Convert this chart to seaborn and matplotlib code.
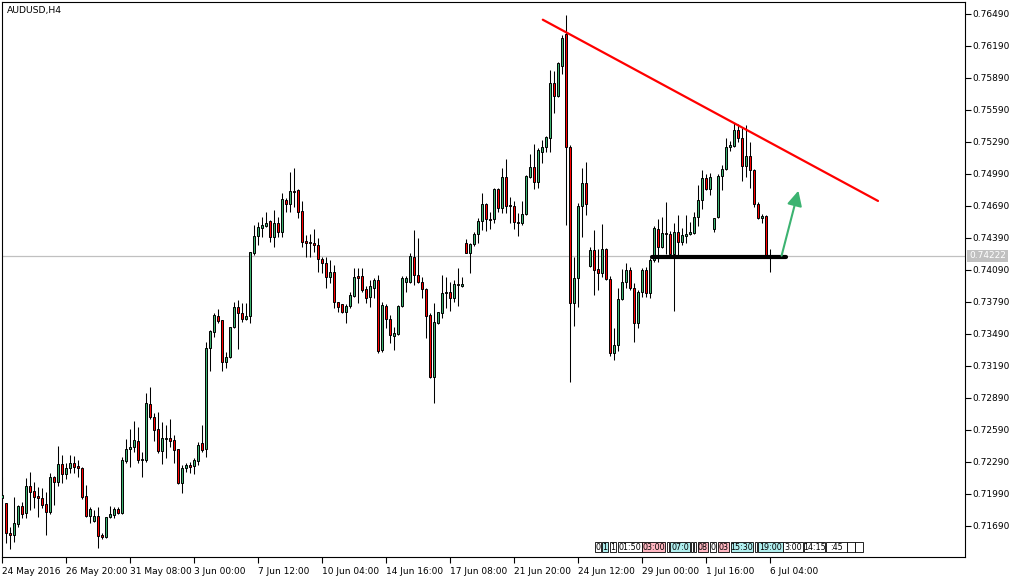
import numpy as np
import pandas as pd
import matplotlib
matplotlib.use("Agg")
import matplotlib.pyplot as plt
import seaborn as sns
from matplotlib.patches import Rectangle

# ---------------- data (AUDUSD H4) ----------------
opens = [
    0.71952, 0.71905, 0.71624, 0.71605, 0.71708, 0.71877, 0.71812, 0.72065, 0.72018, 0.71971,
    0.71952, 0.71896, 0.71821, 0.72149, 0.72102, 0.72271, 0.72177, 0.72233, 0.72280, 0.72252,
    0.72233, 0.71971, 0.71783, 0.71737, 0.71783, 0.71605, 0.71587, 0.71774, 0.71793, 0.71849,
    0.71812, 0.72299, 0.72412, 0.72430, 0.72487, 0.72308, 0.72308, 0.72833, 0.72712, 0.72599,
    0.72393, 0.72505, 0.72515, 0.72496, 0.72412, 0.72093, 0.72233, 0.72262, 0.72252, 0.72299,
    0.72468, 0.72412, 0.73358, 0.73508, 0.73658, 0.73621, 0.73227, 0.73274, 0.73555, 0.73743,
    0.73687, 0.73630, 0.73658, 0.74249, 0.74408, 0.74483, 0.74502, 0.74549, 0.74399, 0.74530,
    0.74446, 0.74746, 0.74708, 0.74830, 0.74840, 0.74643, 0.74362, 0.74352, 0.74343, 0.74324,
    0.74193, 0.74155, 0.74024, 0.74071, 0.73790, 0.73771, 0.73696, 0.73752, 0.73846, 0.74033,
    0.74033, 0.73912, 0.73837, 0.73921, 0.73996, 0.73340, 0.73752, 0.73630, 0.73471, 0.73490,
    0.73752, 0.73977, 0.73977, 0.74212, 0.74043, 0.73977, 0.73912, 0.73668, 0.73087, 0.73593,
    0.73687, 0.73874, 0.73883, 0.73827, 0.73958, 0.73940, 0.74343, 0.74249, 0.74333, 0.74427,
    0.74549, 0.74708, 0.74568, 0.74568, 0.74849, 0.74671, 0.74962, 0.74699, 0.74690, 0.74540,
    0.74530, 0.74615, 0.74962, 0.75055, 0.74915, 0.75196, 0.75243, 0.75327, 0.75843, 0.75721,
    0.76002, 0.76302, 0.75243, 0.73780, 0.74015, 0.74690, 0.74905, 0.74127, 0.74277, 0.74099,
    0.74062, 0.74287, 0.74005, 0.73312, 0.73387, 0.73818, 0.73977, 0.74090, 0.73921, 0.73593,
    0.73883, 0.74090, 0.73874, 0.74183, 0.74474, 0.74305, 0.74437, 0.74427, 0.74240, 0.74446,
    0.74352, 0.74408, 0.74427, 0.74437, 0.74587, 0.74746, 0.74952, 0.74849, 0.74474, 0.74587,
    0.74971, 0.75037, 0.75243, 0.75252, 0.75402, 0.75327, 0.75065, 0.75158, 0.75027, 0.74708,
    0.74577, 0.74596, 0.74215,
]
highs = [
    0.72149, 0.71905, 0.71680, 0.71962, 0.71887, 0.71915, 0.72140, 0.72196, 0.72102, 0.72055,
    0.72046, 0.72008, 0.72187, 0.72158, 0.72440, 0.72355, 0.72280, 0.72355, 0.72346, 0.72308,
    0.72243, 0.72074, 0.71868, 0.71840, 0.71868, 0.71624, 0.71774, 0.71877, 0.71868, 0.71868,
    0.72337, 0.72505, 0.72599, 0.72674, 0.72618, 0.72383, 0.72937, 0.72993, 0.72749, 0.72758,
    0.72665, 0.72637, 0.72693, 0.72543, 0.72412, 0.72262, 0.72280, 0.72290, 0.72327, 0.72477,
    0.72637, 0.73415, 0.73527, 0.73687, 0.73724, 0.73621, 0.73321, 0.73555, 0.73790, 0.73808,
    0.73780, 0.73780, 0.74258, 0.74512, 0.74540, 0.74587, 0.74633, 0.74558, 0.74652, 0.74587,
    0.74812, 0.74765, 0.75008, 0.75046, 0.74849, 0.74737, 0.74418, 0.74427, 0.74474, 0.74390,
    0.74212, 0.74212, 0.74183, 0.74137, 0.73790, 0.73771, 0.73771, 0.73883, 0.74108, 0.74108,
    0.74108, 0.73940, 0.73996, 0.74015, 0.74043, 0.73790, 0.73771, 0.73668, 0.73555, 0.73762,
    0.74033, 0.74033, 0.74249, 0.74465, 0.74390, 0.74024, 0.73921, 0.73687, 0.73780, 0.73696,
    0.74043, 0.74024, 0.73977, 0.73996, 0.74108, 0.74024, 0.74380, 0.74343, 0.74446, 0.74577,
    0.74812, 0.74718, 0.74633, 0.74858, 0.74858, 0.75046, 0.75130, 0.74774, 0.74737, 0.74624,
    0.74737, 0.74980, 0.75177, 0.75271, 0.75233, 0.75308, 0.75346, 0.75965, 0.75955, 0.76040,
    0.76293, 0.76480, 0.75262, 0.74212, 0.74718, 0.75046, 0.75102, 0.74305, 0.74465, 0.74287,
    0.74521, 0.74296, 0.74033, 0.73546, 0.73921, 0.74099, 0.74155, 0.74118, 0.73968, 0.73902,
    0.74108, 0.74118, 0.74202, 0.74502, 0.74568, 0.74587, 0.74727, 0.74455, 0.74530, 0.74605,
    0.74483, 0.74605, 0.74540, 0.74633, 0.74887, 0.75027, 0.74990, 0.74999, 0.74577, 0.74990,
    0.75074, 0.75327, 0.75299, 0.75468, 0.75458, 0.75421, 0.75449, 0.75290, 0.75037, 0.74727,
    0.74615, 0.74605, 0.74287,
]
lows = [
    0.71905, 0.71530, 0.71474, 0.71540, 0.71680, 0.71765, 0.71765, 0.71840, 0.71858, 0.71774,
    0.71858, 0.71605, 0.71802, 0.71887, 0.72065, 0.72093, 0.72130, 0.72187, 0.72187, 0.72149,
    0.71943, 0.71774, 0.71718, 0.71727, 0.71483, 0.71568, 0.71577, 0.71765, 0.71765, 0.71802,
    0.71802, 0.72280, 0.72243, 0.72383, 0.72280, 0.72149, 0.72290, 0.72693, 0.72487, 0.72374,
    0.72271, 0.72327, 0.72430, 0.72280, 0.72083, 0.71999, 0.72196, 0.72187, 0.72177, 0.72262,
    0.72383, 0.72337, 0.73143, 0.73462, 0.73593, 0.73143, 0.73171, 0.73265, 0.73546, 0.73349,
    0.73602, 0.73621, 0.73593, 0.74230, 0.74324, 0.74399, 0.74493, 0.74352, 0.74305, 0.74399,
    0.74399, 0.74633, 0.74633, 0.74680, 0.74577, 0.74305, 0.74212, 0.74212, 0.74258, 0.74071,
    0.74062, 0.73921, 0.73968, 0.73733, 0.73696, 0.73687, 0.73593, 0.73733, 0.73837, 0.73780,
    0.73883, 0.73780, 0.73743, 0.73827, 0.73312, 0.73321, 0.73546, 0.73405, 0.73340, 0.73480,
    0.73743, 0.73883, 0.73968, 0.73949, 0.73968, 0.73827, 0.73452, 0.73077, 0.72843, 0.73583,
    0.73640, 0.73733, 0.73705, 0.73790, 0.73752, 0.73930, 0.74249, 0.74062, 0.74315, 0.74343,
    0.74465, 0.74455, 0.74474, 0.74530, 0.74633, 0.74624, 0.74624, 0.74530, 0.74474, 0.74408,
    0.74512, 0.74605, 0.74952, 0.74849, 0.74858, 0.75093, 0.75196, 0.75196, 0.75562, 0.75712,
    0.75927, 0.74512, 0.73040, 0.73565, 0.73743, 0.74399, 0.74605, 0.74118, 0.73855, 0.73902,
    0.74024, 0.73996, 0.73283, 0.73246, 0.73330, 0.73808, 0.73921, 0.73902, 0.73415, 0.73546,
    0.73837, 0.73837, 0.73827, 0.74165, 0.74165, 0.74296, 0.74240, 0.74230, 0.73705, 0.74230,
    0.74324, 0.74343, 0.74418, 0.74427, 0.74502, 0.74662, 0.74840, 0.74793, 0.74446, 0.74577,
    0.74840, 0.75027, 0.75205, 0.75243, 0.75290, 0.74924, 0.74962, 0.74858, 0.74680, 0.74568,
    0.74530, 0.74212, 0.74071,
]
closes = [
    0.71980, 0.71624, 0.71605, 0.71718, 0.71877, 0.71802, 0.72065, 0.72008, 0.71962, 0.71952,
    0.71887, 0.71821, 0.72149, 0.72102, 0.72271, 0.72177, 0.72233, 0.72280, 0.72243, 0.72233,
    0.71962, 0.71783, 0.71849, 0.71783, 0.71596, 0.71587, 0.71774, 0.71802, 0.71849, 0.71812,
    0.72308, 0.72412, 0.72430, 0.72496, 0.72308, 0.72318, 0.72843, 0.72712, 0.72590, 0.72393,
    0.72515, 0.72515, 0.72487, 0.72402, 0.72093, 0.72233, 0.72262, 0.72243, 0.72308, 0.72449,
    0.72402, 0.73358, 0.73518, 0.73668, 0.73612, 0.73227, 0.73274, 0.73555, 0.73743, 0.73687,
    0.73630, 0.73658, 0.74258, 0.74408, 0.74493, 0.74512, 0.74530, 0.74399, 0.74530, 0.74446,
    0.74755, 0.74708, 0.74830, 0.74821, 0.74633, 0.74352, 0.74343, 0.74343, 0.74324, 0.74193,
    0.74155, 0.74024, 0.74071, 0.73790, 0.73743, 0.73696, 0.73752, 0.73855, 0.74024, 0.74015,
    0.73902, 0.73827, 0.73940, 0.73996, 0.73330, 0.73762, 0.73630, 0.73480, 0.73499, 0.73752,
    0.74015, 0.74015, 0.74221, 0.74043, 0.73977, 0.73912, 0.73658, 0.73087, 0.73602, 0.73696,
    0.73874, 0.73883, 0.73827, 0.73958, 0.73949, 0.73958, 0.74249, 0.74333, 0.74427, 0.74549,
    0.74708, 0.74568, 0.74558, 0.74849, 0.74671, 0.74962, 0.74690, 0.74690, 0.74540, 0.74530,
    0.74615, 0.74971, 0.75055, 0.74915, 0.75215, 0.75243, 0.75337, 0.75843, 0.75721, 0.76030,
    0.76265, 0.75243, 0.73780, 0.74015, 0.74690, 0.74905, 0.74708, 0.74277, 0.74090, 0.74062,
    0.74287, 0.74005, 0.73312, 0.73387, 0.73818, 0.73977, 0.74090, 0.73921, 0.73593, 0.73883,
    0.74090, 0.73874, 0.74183, 0.74483, 0.74305, 0.74437, 0.74427, 0.74240, 0.74446, 0.74352,
    0.74418, 0.74427, 0.74446, 0.74587, 0.74746, 0.74952, 0.74849, 0.74962, 0.74577, 0.74971,
    0.75037, 0.75243, 0.75262, 0.75402, 0.75327, 0.75065, 0.75158, 0.75027, 0.74708, 0.74577,
    0.74596, 0.74221, 0.74222,
]

xtick_labels = ["24 May 2016", "26 May 20:00", "31 May 08:00", "3 Jun 00:00", "7 Jun 12:00",
                "10 Jun 04:00", "14 Jun 16:00", "17 Jun 08:00", "21 Jun 20:00", "24 Jun 12:00",
                "29 Jun 00:00", "1 Jul 16:00", "6 Jul 04:00"]
ytick_values = [0.76490, 0.76190, 0.75890, 0.75590, 0.75290, 0.74990, 0.74690, 0.74390,
                0.74090, 0.73790, 0.73490, 0.73190, 0.72890, 0.72590, 0.72290, 0.71990, 0.71690]
current_price = 0.74222

# drawn objects (bar index, price)
trend_x = [135.2, 219.0]
trend_y = [0.76436, 0.74737]
support_x = [162.5, 196.0]
support_y = [0.74209, 0.74209]
arrow_from = (194.9, 0.74224)
arrow_to = (199.1, 0.74833)

# news-event strip labels
event_labels = ["0", "1", "1", "01:50", "03:00", "", "07:0", "", "", "08", "0", "03",
                "15:30", "", "19:00", "3:00", "14:15", ":45", "", ""]
event_kinds = ["n", "c", "n", "n", "p", "n", "c", "n", "n", "p", "n", "p",
               "c", "n", "c", "n", "n", "n", "n", "n"]

# ---------------- figure ----------------
sns.set_style("white")
plt.rcParams["font.family"] = ["DejaVu Sans"]

W, H = 1019, 578
fig = plt.figure(figsize=(W / 100, H / 100), dpi=100)
fig.patch.set_facecolor("white")
ax = fig.add_axes([2 / W, 21 / H, 963 / W, 555 / H])
ax.set_facecolor("white")

df = pd.DataFrame({"open": opens, "high": highs, "low": lows, "close": closes})
df["idx"] = np.arange(len(df))
df["up"] = df["close"] >= df["open"]

GREEN = "#3CB371"
RED = "#FF0000"

# wicks
ax.vlines(df["idx"], df["low"], df["high"], color="black", linewidth=0.75, zorder=2)
# bodies
bottom = np.minimum(df["open"], df["close"])
height = np.maximum((df["close"] - df["open"]).abs(), 0.00002)
colors = np.where(df["up"], GREEN, RED)
ax.bar(df["idx"], height, bottom=bottom, width=0.55, color=colors,
       edgecolor="black", linewidth=0.7, zorder=3)

# current price line
ax.axhline(current_price, color="#C0C0C0", linewidth=0.9, zorder=1)

# trend line and support line
sns.lineplot(x=trend_x, y=trend_y, ax=ax, color=RED, linewidth=1.6, zorder=4)
sns.lineplot(x=support_x, y=support_y, ax=ax, color="black", linewidth=3.0, zorder=4)
ax.annotate("", xy=arrow_to, xytext=arrow_from,
            arrowprops=dict(arrowstyle="-|>,head_length=0.9,head_width=0.45",
                            color=GREEN, lw=1.5, shrinkA=0, shrinkB=0), zorder=5)

ax.set_xlim(0, 240.75)
ax.set_ylim(0.71399, 0.76602)

# axes styling
for s in ax.spines.values():
    s.set_visible(True)
    s.set_color("black")
    s.set_linewidth(0.8)
ax.grid(False)
ax.yaxis.tick_right()
ax.set_yticks(ytick_values)
ax.set_yticklabels([f"{v:.5f}" for v in ytick_values])
ax.tick_params(axis="y", direction="out", length=4, width=0.8, labelsize=6.5,
               pad=1, colors="black", right=True, left=False)
ax.set_xticks(np.arange(0, 16 * len(xtick_labels), 16))
ax.set_xticklabels(xtick_labels, ha="left")
ax.tick_params(axis="x", direction="out", length=4, width=0.8, labelsize=6.5,
               pad=3, colors="black", bottom=True)
ax.set_xlabel("")
ax.set_ylabel("")
if ax.get_legend():
    ax.get_legend().remove()

# title
fig.text(7 / W, 1 - 10 / H, "AUDUSD,H4", fontsize=6.7, ha="left", va="center", color="black")

# current price label
fig.text(969 / W, 1 - 256 / H, f"{current_price:.5f}", fontsize=6.5, ha="left", va="center",
         color="white", bbox=dict(facecolor="#C0C0C0", edgecolor="none", pad=1.3))

# news-event strip
box_edges = [(595, 601), (602, 608), (610, 616), (618, 642), (642, 665), (667, 669),
             (670, 690), (691, 693), (694, 696), (698, 708), (710, 716), (718, 729),
             (731, 753), (755, 757), (758, 783), (783, 803), (804, 825), (826, 847),
             (847, 855), (855, 863)]
fill = {"n": "white", "c": "#AFEEEE", "p": "#FFB6C1"}
for (x0, x1), lab, kind in zip(box_edges, event_labels, event_kinds):
    r = Rectangle((x0 / W, 1 - 552 / H), (x1 - x0) / W, 10 / H, transform=fig.transFigure,
                  facecolor=fill[kind], edgecolor="black", linewidth=0.6, zorder=6)
    fig.add_artist(r)
    if lab:
        fig.text((x0 + x1) / 2 / W, 1 - 547 / H, lab, fontsize=5.8, ha="center",
                 va="center", color="black", zorder=7)

fig.savefig("out.png", dpi=100, facecolor="white")
